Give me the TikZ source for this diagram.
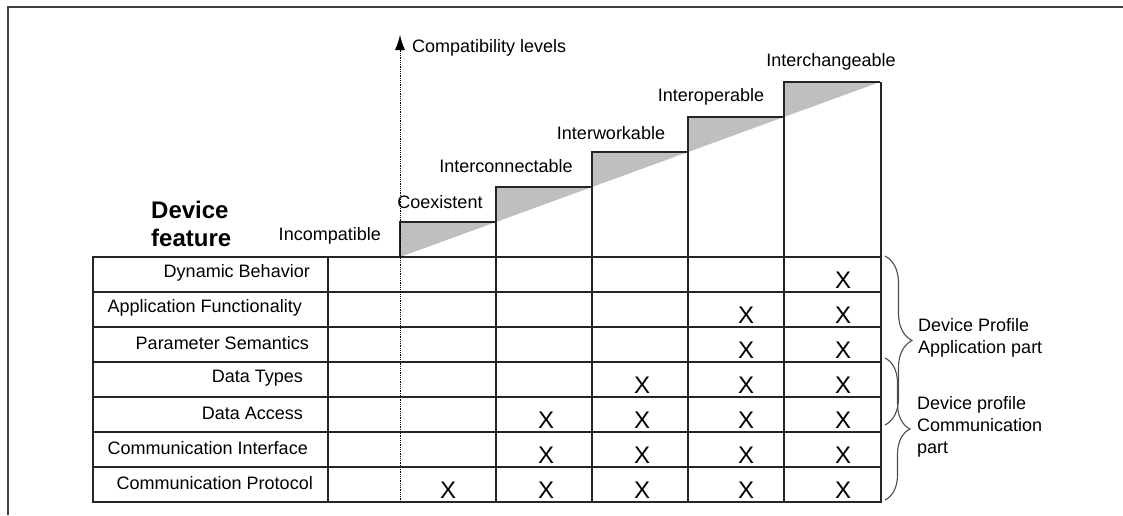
\documentclass[tikz,border=0pt]{standalone}
\usepackage{fontspec}
\setmainfont{Liberation Sans}
\usetikzlibrary{arrows.meta,decorations.pathreplacing}

\begin{document}
\begin{tikzpicture}[x=1pt,y=-1pt,
  txt/.style={font=\fontsize{18}{22}\selectfont,inner sep=0pt},
  xmark/.style={font=\fontsize{24}{24}\selectfont,inner sep=0pt},
  grid/.style={line width=1.2pt,black!85},
  stair/.style={fill=black!25},
  brc/.style={decorate,decoration={brace,amplitude=#1},line width=1.1pt,black!70}]
\useasboundingbox (0,0) rectangle (1123,515);
% frame
\draw[line width=2pt,black!75] (8,515) -- (8,7) -- (1123,7);
% stairs
\foreach \k in {1,...,5}{
  \pgfmathsetmacro\xl{400+96*(\k-1)}
  \pgfmathsetmacro\xr{400+96*\k}
  \pgfmathsetmacro\yt{257-35*\k}
  \pgfmathsetmacro\yb{\k==1 ? 257 : 502}
  \fill[stair] (\xl,\yt+35) -- (\xl,\yt) -- (\xr,\yt) -- cycle;
  \draw[grid] (\xl,\yb) -- (\xl,\yt) -- (\xr,\yt);
}
\draw[grid] (881,82) -- (881,502);
% table
\draw[grid] (93,257) rectangle (881,502);
\foreach \i in {1,...,6} \draw[grid] (93,257+35*\i) -- (881,257+35*\i);
\draw[grid] (328,257) -- (328,502);
\foreach \t/\r [count=\i] in {Dynamic Behavior/310,Application Functionality/302,Parameter Semantics/309,Data Types/303,Data Access/303,Communication Interface/308,Communication Protocol/313}
  \node[txt,anchor=east] (f\i) at (\r,257+35*\i-19) {\t};
\foreach \s [count=\i] in {5,4,4,3,2,2,1}
  \foreach \c/\xx in {1/448,2/546,3/642,4/746,5/843}
    {\ifnum\c<\s\else \node[xmark] (x\i\c) at (\xx,257+35*\i-12) {X};\fi}
% axis
\coordinate (ax0) at (400,502);
\coordinate (ax1) at (400,35);
\draw[densely dotted,line width=0.8pt,-{Latex[length=15pt,width=10pt]}] (ax0) -- (ax1);
\node[txt,anchor=west] (lvl) at (412,48) {Compatibility levels};
% levels
\node[txt,anchor=east] (l0) at (381,236) {Incompatible};
\node[txt] (l1) at (440,202) {Coexistent};
\node[txt] (l2) at (506,166) {Interconnectable};
\node[txt] (l3) at (611,133) {Interworkable};
\node[txt] (l4) at (711,97) {Interoperable};
\node[txt] (l5) at (831,62) {Interchangeable};
\node[font=\fontsize{24}{28}\selectfont\bfseries,align=left,anchor=west,inner sep=0pt] (feat) at (151,224) {Device\\feature};
% braces
\coordinate (ba) at (885,256);
\coordinate (bb) at (885,425);
\coordinate (bc) at (885,358);
\coordinate (bd) at (885,500);
\draw[brc=27pt] (ba) -- (bb);
\draw[brc=25pt] (bc) -- (bd);
\node[txt,align=left,anchor=west] (app) at (918,338) {Device Profile\\Application part};
\node[txt,align=left,anchor=west] (com) at (917,427) {Device profile\\Communication\\part};
\end{tikzpicture}
\end{document}
